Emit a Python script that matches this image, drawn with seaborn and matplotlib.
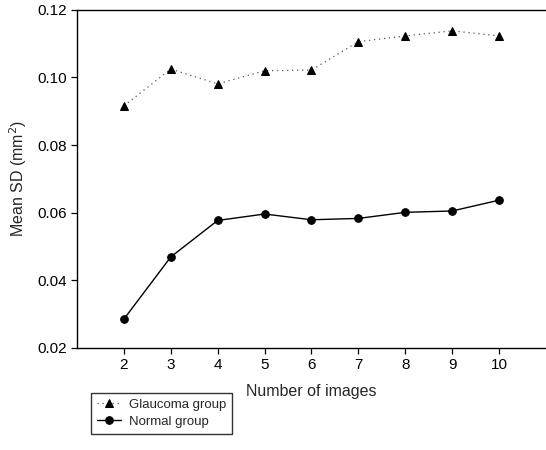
import numpy as np
import pandas as pd
import seaborn as sns
import matplotlib.pyplot as plt

# values
n_images = [2, 3, 4, 5, 6, 7, 8, 9, 10]
glaucoma = [0.0916, 0.1025, 0.0981, 0.1020, 0.1022, 0.1106, 0.1123, 0.1138, 0.1123]
normal = [0.0285, 0.0469, 0.0577, 0.0596, 0.0579, 0.0583, 0.0601, 0.0605, 0.0637]
y_ticks = [0.02, 0.04, 0.06, 0.08, 0.10, 0.12]

sns.set_style("ticks")
plt.rcParams['font.family'] = ['Liberation Sans', 'DejaVu Sans']

fig = plt.figure(figsize=(5.46, 4.5), dpi=100)
ax = fig.add_axes([0.141, 0.227, 0.859, 0.751])

df = pd.DataFrame({"n": n_images, "glaucoma": glaucoma, "normal": normal})

sns.lineplot(data=df, x="n", y="glaucoma", ax=ax, color="#555555",
             linestyle=(0, (1, 3)), linewidth=0.9, marker="^", markersize=6,
             markerfacecolor="black", markeredgecolor="black",
             label="Glaucoma group")
sns.lineplot(data=df, x="n", y="normal", ax=ax, color="black",
             linewidth=1.0, marker="o", markersize=5.5,
             markerfacecolor="black", markeredgecolor="black",
             label="Normal group")

ax.set_xlim(1, 11)
ax.set_ylim(0.02, 0.12)
ax.set_xticks(n_images)
ax.set_yticks(y_ticks)
ax.set_yticklabels([f"{v:.2f}" for v in y_ticks])
ax.tick_params(axis="both", labelsize=11, length=4, width=0.9, direction="out",
               color="black", labelcolor="black")
ax.tick_params(axis="x", pad=3)

for side in ["left", "bottom", "top"]:
    ax.spines[side].set_color("black")
    ax.spines[side].set_linewidth(1.0)
ax.spines["right"].set_visible(False)

ax.set_xlabel("Number of images", fontsize=11.5, labelpad=9)
ax.set_ylabel("Mean SD (mm$^2$)", fontsize=11.5, labelpad=6)

handles, labels = ax.get_legend_handles_labels()
ax.get_legend().remove()
fig.legend(handles, labels, loc="upper left", bbox_to_anchor=(0.167, 0.127),
           frameon=True, fancybox=False, edgecolor="black", fontsize=9.5,
           handlelength=1.8, borderpad=0.45, labelspacing=0.35,
           handletextpad=0.6, borderaxespad=0)

fig.savefig("out.png", dpi=100)
